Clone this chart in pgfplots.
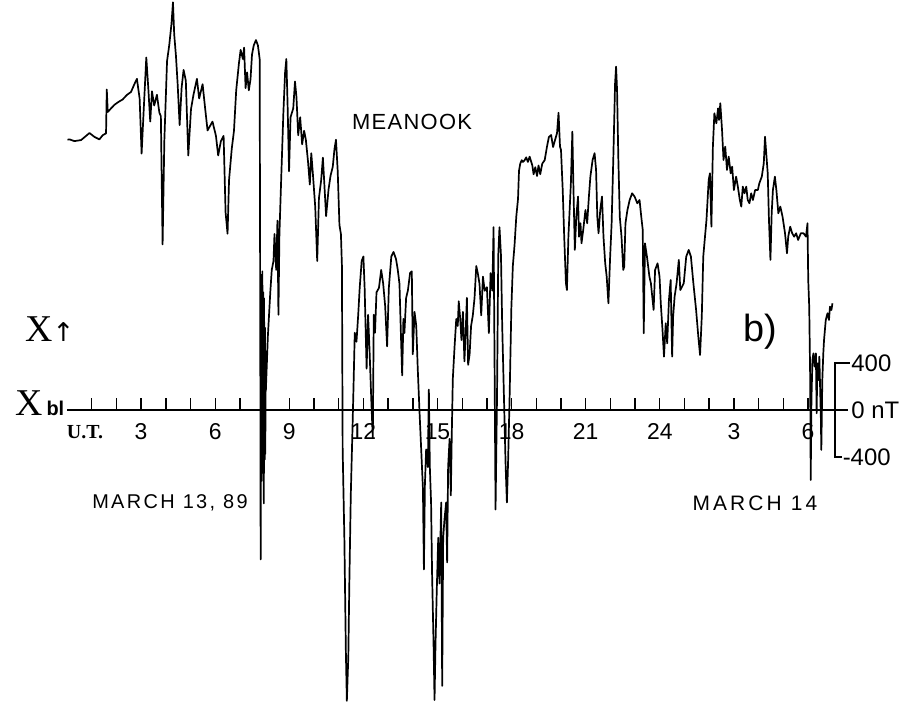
\documentclass[border=0pt]{standalone}
\usepackage{fontspec}
\setmainfont{Liberation Sans}
\newfontfamily\serif{Liberation Serif}
\newfontfamily\arrows{DejaVu Sans}
\usepackage{pgfplots}
\pgfplotsset{compat=1.18}

\begin{document}
\begin{tikzpicture}
\begin{axis}[
  width=909bp, height=706bp, scale only axis,
  xmin=-2.713, xmax=34.09, ymin=-2519, ymax=3489,
  axis lines=none, clip=false,
  unbounded coords=jump,
]
\path (rel axis cs:0,0) rectangle (rel axis cs:1,1);

% X component, Meanook, 13-14 March 1989 (hours UT, nT above baseline)
\addplot[black, line width=1.7bp, line join=round] coordinates {
(0.02,2300)(0.10,2303)(0.30,2288)(0.57,2297)(0.91,2357)(1.11,2324)(1.31,2303)(1.45,2339)(1.58,2354)(1.61,2727)
(1.65,2536)(1.78,2566)(1.92,2597)(2.08,2621)(2.25,2642)(2.43,2682)(2.59,2706)(2.76,2788)(2.83,2818)(2.94,2651)
(3.02,2182)(3.10,2530)(3.21,3000)(3.29,2742)(3.37,2454)(3.44,2712)(3.53,2591)(3.64,2682)(3.74,2530)(3.80,2500)
(3.87,1409)(3.94,2288)(4.05,2969)(4.14,3106)(4.23,3287)(4.29,3469)(4.34,3197)(4.41,3015)(4.48,2772)(4.56,2424)
(4.64,2742)(4.72,2894)(4.81,2803)(4.91,2166)(5.02,2560)(5.12,2682)(5.26,2818)(5.35,2651)(5.49,2772)(5.58,2591)
(5.69,2379)(5.89,2454)(6.03,2333)(6.12,2166)(6.23,2288)(6.34,2333)(6.42,1682)(6.50,1500)
(6.56,1956)(6.67,2223)(6.76,2376)(6.85,2720)(6.96,2949)(7.03,3064)(7.12,2987)(7.17,3083)(7.23,2739)(7.29,2873)
(7.36,2720)(7.43,2815)(7.49,3025)(7.56,3102)(7.65,3148)(7.73,3102)(7.80,2987)(7.82,1115)(7.83,46)(7.84,-1272)
(7.85,810)(7.86,-300)(7.87,1150)(7.88,-604)(7.89,1115)(7.90,-200)(7.91,1180)(7.92,-413)(7.93,900)(7.94,-450)
(7.95,1001)(7.96,-350)(7.97,-795)(7.98,950)(7.99,-300)(8.00,619)(8.01,-420)(8.02,700)(8.03,-374)(8.04,500)
(8.05,160)(8.13,619)
(8.23,1001)(8.29,1192)(8.36,1268)(8.40,1497)(8.47,1192)(8.52,1612)(8.56,810)(8.60,1497)(8.67,1956)(8.76,2529)
(8.83,2873)(8.88,2987)(8.93,2605)(8.99,2032)(9.05,2491)(9.16,2567)(9.23,2796)(9.29,2663)(9.36,2338)(9.44,2491)
(9.52,2261)(9.60,2376)(9.67,2300)(9.76,2109)(9.83,1918)(9.89,2185)(9.96,1994)(10.05,1727)(10.13,1268)(10.20,1803)
(10.29,1956)(10.36,2147)(10.43,1879)(10.49,1650)(10.59,1879)(10.67,1994)(10.76,2070)(10.83,2223)(10.89,2300)(10.96,2032)
(11.03,1574)(11.09,1497)(11.13,1230)(11.16,-336)(11.23,-1100)(11.29,-2055)(11.33,-2475)(11.39,-2093)(11.43,-1482)(11.49,-718)
(11.56,-145)(11.60,199)(11.65,657)(11.72,581)(11.79,810)(11.85,1039)(11.93,1268)(12.00,1306)(12.05,1039)(12.13,351)
(12.19,810)(12.25,504)(12.32,84)(12.38,-240)(12.42,810)(12.47,657)(12.53,1001)(12.63,1039)(12.72,1192)(12.80,1077)
(12.88,886)(12.96,542)(13.03,1039)(13.13,1306)(13.22,1345)(13.32,1285)(13.39,1195)(13.46,1075)(13.53,565)(13.57,294)
(13.62,775)(13.66,655)(13.73,955)(13.80,1015)(13.89,1165)(13.96,1180)(14.00,474)(14.07,835)(14.14,715)(14.20,354)
(14.27,-6)(14.34,-336)(14.41,-667)(14.45,-1357)(14.49,-637)(14.54,-336)(14.61,-486)(14.65,174)(14.69,-486)(14.74,-787)
(14.78,-1387)(14.84,-1988)(14.88,-2468)(14.92,-1988)(14.97,-1537)(15.03,-1087)(15.08,-1477)(15.15,-787)(15.19,-2348)(15.23,-1087)
(15.28,-937)(15.35,-787)(15.39,-1297)(15.43,-486)(15.49,-246)(15.54,-727)(15.58,-186)(15.62,264)(15.69,535)(15.76,775)
(15.82,715)(15.86,925)(15.92,775)(15.97,595)(16.03,835)(16.09,414)(16.14,655)(16.19,955)(16.24,384)(16.30,474)
(16.36,715)(16.43,805)(16.50,955)(16.57,1225)(16.63,1165)(16.70,1075)(16.77,805)(16.84,1135)(16.91,1015)(17.00,1045)
(17.08,655)(17.15,1165)(17.22,1015)(17.27,1556)(17.31,414)(17.35,-847)(17.41,114)(17.46,1315)(17.51,1556)(17.57,1315)
(17.62,715)(17.69,114)(17.76,-486)(17.81,-787)(17.86,-426)(17.92,114)(17.99,865)(18.05,1225)(18.12,1405)(18.19,1646)
(18.26,1796)(18.30,2036)(18.35,2096)(18.41,2126)(18.46,2111)(18.53,2126)(18.59,2150)(18.66,2111)(18.73,2156)(18.84,2081)
(18.89,2006)(18.96,2066)(19.03,1991)(19.09,2081)(19.16,2006)(19.24,2096)(19.34,2126)(19.43,2238)(19.51,2323)(19.60,2340)
(19.68,2238)(19.76,2298)(19.84,2357)(19.90,2530)(19.96,2240)(20.00,2213)(20.07,1872)(20.13,1475)(20.20,1078)(20.24,1021)
(20.30,1475)(20.40,1929)(20.46,2369)(20.50,1929)(20.56,1362)(20.62,1645)(20.69,1816)(20.73,1475)(20.79,1589)(20.83,1418)
(20.90,1532)(20.99,1702)(21.06,1589)(21.13,1816)(21.19,1986)(21.28,2128)(21.36,2185)(21.42,2043)(21.47,1645)(21.52,1504)
(21.59,1702)(21.66,1816)(21.72,1475)(21.79,1248)(21.85,1135)(21.92,908)(21.99,1305)(22.05,1589)(22.12,2156)(22.19,2780)
(22.23,2922)(22.27,2723)(22.32,2156)(22.38,1645)(22.45,1475)(22.52,1192)(22.56,1220)(22.61,1589)(22.69,1702)(22.78,1787)
(22.88,1844)(22.98,1816)(23.09,1759)(23.18,1787)(23.25,1645)(23.31,1532)(23.35,653)(23.40,1418)(23.48,1305)(23.58,1135)
(23.64,1078)(23.75,851)(23.81,1192)(23.91,1248)(23.99,1135)(24.04,908)(24.11,681)(24.17,454)(24.24,738)(24.30,567)
(24.37,936)(24.44,1106)(24.50,454)(24.54,794)(24.60,965)(24.68,1078)(24.77,1277)(24.83,1021)(24.97,1078)(25.07,1305)
(25.17,1362)(25.26,1305)(25.36,1078)(25.47,851)(25.56,624)(25.63,468)(25.70,794)(25.76,1305)(25.83,1475)(25.89,1617)
(25.98,1958)(26.03,2014)(26.09,1560)(26.15,2241)(26.21,2525)(26.29,2440)(26.36,2567)(26.40,2468)(26.45,2610)(26.52,2383)
(26.58,2128)(26.65,2241)(26.72,2043)(26.79,2156)(26.87,2014)(26.93,2071)(27.00,1872)(27.09,1986)(27.16,1901)(27.24,1787)
(27.30,1731)(27.36,1901)(27.43,1844)(27.50,1901)(27.56,1787)(27.63,1759)(27.70,1844)(27.77,1787)(27.86,1872)(27.97,1872)
(28.03,1929)(28.13,1986)(28.21,2099)(28.26,2326)(28.32,2156)(28.37,2014)(28.42,1617)(28.48,1277)(28.53,1674)(28.58,1872)
(28.66,1986)(28.72,1872)(28.80,1674)(28.88,1731)(28.97,1645)(29.07,1504)(29.15,1333)(29.20,1475)(29.28,1560)(29.36,1504)
(29.44,1475)(29.52,1504)(29.60,1447)(29.71,1504)(29.82,1504)(29.92,1475)(29.98,1589)(30.01,1106)(30.05,879)(30.09,255)
(30.11,-596)(30.14,85)(30.18,426)(30.22,482)(30.27,369)(30.32,482)(30.35,-28)(30.38,397)(30.42,255)(30.46,454)
(30.52,-57)(30.54,-340)(30.58,255)(30.62,482)(30.65,596)(30.72,766)(30.79,823)(30.85,766)(30.89,879)(30.95,851)
(30.99,908)
};

% baseline and hour ticks
\addplot[black, line width=1.7bp] coordinates {(0,0)(31.62,0)};
\addplot[black, line width=1.4bp] coordinates {
(1,0)(1,100)(nan,nan)(2,0)(2,100)(nan,nan)(3,0)(3,100)(nan,nan)(4,0)(4,100)(nan,nan)(5,0)(5,100)(nan,nan)
(6,0)(6,100)(nan,nan)(7,0)(7,100)(nan,nan)(8,0)(8,100)(nan,nan)(9,0)(9,100)(nan,nan)(10,0)(10,100)(nan,nan)
(11,0)(11,100)(nan,nan)(12,0)(12,100)(nan,nan)(13,0)(13,100)(nan,nan)(14,0)(14,100)(nan,nan)(15,0)(15,100)(nan,nan)
(16,0)(16,100)(nan,nan)(17,0)(17,100)(nan,nan)(18,0)(18,100)(nan,nan)(19,0)(19,100)(nan,nan)(20,0)(20,100)(nan,nan)
(21,0)(21,100)(nan,nan)(22,0)(22,100)(nan,nan)(23,0)(23,100)(nan,nan)(24,0)(24,100)(nan,nan)(25,0)(25,100)(nan,nan)
(26,0)(26,100)(nan,nan)(27,0)(27,100)(nan,nan)(28,0)(28,100)(nan,nan)(29,0)(29,100)(nan,nan)(30,0)(30,100)
};
% scale bar
\addplot[black, line width=1.4bp] coordinates {(31.70,400)(31.09,400)(31.09,-400)(31.38,-400)};

\begin{scope}[every node/.style={inner sep=0pt}]
\node[font=\fontsize{23}{23}\selectfont] at (axis cs:3,-187) {3};
\node[font=\fontsize{23}{23}\selectfont] at (axis cs:6,-187) {6};
\node[font=\fontsize{23}{23}\selectfont] at (axis cs:9,-187) {9};
\node[font=\fontsize{23}{23}\selectfont] at (axis cs:12,-187) {12};
\node[font=\fontsize{23}{23}\selectfont] at (axis cs:15,-187) {15};
\node[font=\fontsize{23}{23}\selectfont] at (axis cs:18,-187) {18};
\node[font=\fontsize{23}{23}\selectfont] at (axis cs:21,-187) {21};
\node[font=\fontsize{23}{23}\selectfont] at (axis cs:24,-187) {24};
\node[font=\fontsize{23}{23}\selectfont] at (axis cs:27,-187) {3};
\node[font=\fontsize{23}{23}\selectfont] at (axis cs:30,-187) {6};
\node[font=\serif\bfseries\fontsize{20}{20}\selectfont] at (axis cs:0.73,-187) {U.T.};

\node[anchor=west, font=\fontsize{24}{24}\selectfont] at (axis cs:31.75,400) {400};
\node[anchor=west, font=\fontsize{24}{24}\selectfont] at (axis cs:31.75,0) {0 nT};
\node[anchor=west, font=\fontsize{24}{24}\selectfont] at (axis cs:31.40,-400) {-400};

\node[font=\fontsize{22}{22}\selectfont\addfontfeatures{LetterSpace=6}] at (axis cs:13.97,2451) {MEANOOK};
\node[font=\fontsize{20}{20}\selectfont\addfontfeatures{LetterSpace=12}] at (axis cs:4.17,-791) {MARCH 13, 89};
\node[font=\fontsize{21}{21}\selectfont\addfontfeatures{LetterSpace=15}] at (axis cs:27.85,-791) {MARCH 14};
\node[font=\fontsize{38}{38}\selectfont] at (axis cs:28.06,664) {b)};

\node[anchor=base west, font=\serif\fontsize{38}{38}\selectfont] at (axis cs:-1.70,587) {X{\arrows\fontsize{26}{26}\selectfont ↑}};
\node[anchor=base west, font=\serif\fontsize{38}{38}\selectfont] at (axis cs:-2.105,-51) {X\hspace{4bp}{\rmfamily\bfseries\fontsize{20}{20}\selectfont bl}};
\end{scope}
\end{axis}
\end{tikzpicture}
\end{document}
